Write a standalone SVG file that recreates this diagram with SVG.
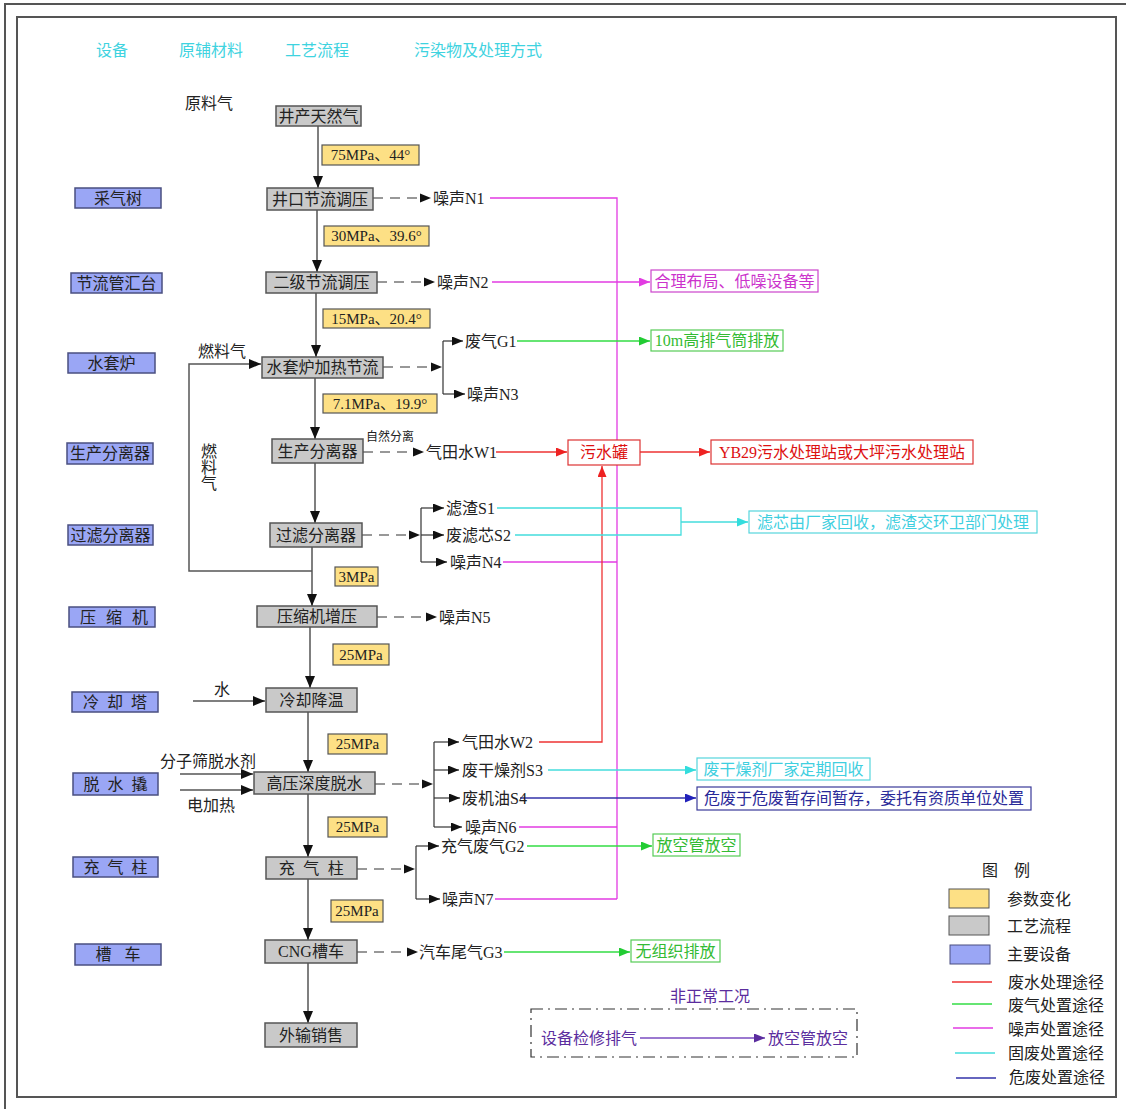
<svg xmlns="http://www.w3.org/2000/svg" width="1126" height="1109" viewBox="0 0 1126 1109">
<defs>
<style>
text{font-family:"Liberation Serif","Noto Sans CJK SC",serif;font-size:16px;fill:#222;dominant-baseline:central}
.c{text-anchor:middle}
.hd{fill:#3fd3df}
.proc{fill:#c9c9c9;stroke:#555;stroke-width:1.5}
.equip{fill:#9aa6f5;stroke:#4a4f80;stroke-width:1.5}
.param{fill:#fde085;stroke:#555;stroke-width:1.2}
.pt{font-size:15px}
.pol{font-size:16px}
.flow{fill:none;stroke:#555;stroke-width:1.5}
.dash{fill:none;stroke:#777;stroke-width:1.3;stroke-dasharray:10 7}
.br{fill:none;stroke:#333;stroke-width:1.2}
.mg{fill:none;stroke:#e23be2;stroke-width:1.3}
.gr{fill:none;stroke:#33dd44;stroke-width:1.3}
.rd{fill:none;stroke:#ee3333;stroke-width:1.3}
.cy{fill:none;stroke:#44dddd;stroke-width:1.3}
.bl{fill:none;stroke:#3333aa;stroke-width:1.3}
.pu{fill:none;stroke:#7a4cc0;stroke-width:1.3}
.tmg{fill:#cc33cc}.bmg{fill:#fff;stroke:#cc44cc;stroke-width:1.2}
.tgr{fill:#33bb33}.bgr{fill:#fff;stroke:#55cc55;stroke-width:1.2}
.trd{fill:#dd1111}.brd{fill:#fff;stroke:#dd3333;stroke-width:1.2}
.tcy{fill:#3fcfdf}.bcy{fill:#fff;stroke:#55d5dd;stroke-width:1.2}
.tbl{fill:#2a2a99}.bbl{fill:#fff;stroke:#3a3a99;stroke-width:1.2}
.tpu{fill:#5b2d9e}
</style>
<marker id="ak" markerUnits="userSpaceOnUse" markerWidth="12" markerHeight="10" refX="12" refY="5" orient="auto"><path d="M0,0L12,5L0,10z" fill="#111"/></marker>
<marker id="as" markerUnits="userSpaceOnUse" markerWidth="11" markerHeight="9" refX="11" refY="4.5" orient="auto"><path d="M0,0L11,4.5L0,9z" fill="#111"/></marker>
<marker id="am" markerUnits="userSpaceOnUse" markerWidth="11" markerHeight="9" refX="11" refY="4.5" orient="auto"><path d="M0,0L11,4.5L0,9z" fill="#e23be2"/></marker>
<marker id="ag" markerUnits="userSpaceOnUse" markerWidth="11" markerHeight="9" refX="11" refY="4.5" orient="auto"><path d="M0,0L11,4.5L0,9z" fill="#22cc33"/></marker>
<marker id="ar" markerUnits="userSpaceOnUse" markerWidth="11" markerHeight="9" refX="11" refY="4.5" orient="auto"><path d="M0,0L11,4.5L0,9z" fill="#ee2222"/></marker>
<marker id="ac" markerUnits="userSpaceOnUse" markerWidth="11" markerHeight="9" refX="11" refY="4.5" orient="auto"><path d="M0,0L11,4.5L0,9z" fill="#33dddd"/></marker>
<marker id="ab" markerUnits="userSpaceOnUse" markerWidth="11" markerHeight="9" refX="11" refY="4.5" orient="auto"><path d="M0,0L11,4.5L0,9z" fill="#2222bb"/></marker>
<marker id="ap" markerUnits="userSpaceOnUse" markerWidth="11" markerHeight="9" refX="11" refY="4.5" orient="auto"><path d="M0,0L11,4.5L0,9z" fill="#5b2d9e"/></marker>
</defs>
<rect width="1126" height="1109" fill="#fff"/>
<g id="frame" fill="none" stroke="#555" stroke-width="2">
<path d="M5,1109V4H1126"/>
<rect x="17" y="17" width="1099" height="1080"/>
</g>
<g id="headers">
<text class="c hd" x="112" y="50">设备</text>
<text class="c hd" x="211" y="50">原辅材料</text>
<text class="c hd" x="317" y="50">工艺流程</text>
<text class="c hd" x="478" y="50">污染物及处理方式</text>
<text x="185" y="103">原料气</text>
</g>
<g id="equipment">
<g id="e1"><rect class="equip" x="75" y="188" width="86" height="20"/><text class="c" x="118" y="198">采气树</text></g>
<g id="e2"><rect class="equip" x="71" y="273" width="91" height="20"/><text class="c" x="116.5" y="283">节流管汇台</text></g>
<g id="e3"><rect class="equip" x="68" y="353" width="87" height="20"/><text class="c" x="111.5" y="363">水套炉</text></g>
<g id="e4"><rect class="equip" x="67" y="443" width="86" height="21"/><text class="c" x="110" y="453.5">生产分离器</text></g>
<g id="e5"><rect class="equip" x="68" y="525" width="85" height="20"/><text class="c" x="110.5" y="535">过滤分离器</text></g>
<g id="e6"><rect class="equip" x="69" y="607" width="86" height="20"/><text class="c" x="119" y="617" letter-spacing="10">压缩机</text></g>
<g id="e7"><rect class="equip" x="72" y="692" width="86" height="20"/><text class="c" x="119" y="702" letter-spacing="8">冷却塔</text></g>
<g id="e8"><rect class="equip" x="73" y="773" width="85" height="22"/><text class="c" x="119.5" y="784" letter-spacing="8">脱水撬</text></g>
<g id="e9"><rect class="equip" x="73" y="857" width="85" height="20"/><text class="c" x="119.5" y="867" letter-spacing="8">充气柱</text></g>
<g id="e10"><rect class="equip" x="75" y="944" width="86" height="21"/><text class="c" x="124.5" y="954.5" letter-spacing="13">槽车</text></g>
</g>
<g id="connectors">
<g id="flow" class="flow" marker-end="url(#ak)">
<path d="M318,126V188"/><path d="M317,210V272"/><path d="M316,293V357"/><path d="M315,378V439"/>
<path d="M315,463V523"/><path d="M312,547V606"/><path d="M310,627V688"/><path d="M308,712V772"/>
<path d="M308,794V857"/><path d="M308,879V940"/><path d="M308,963V1023"/>
<path d="M312,571H189V364H261"/>
<path d="M193,701H265"/>
<path d="M180,774H253"/>
<path d="M180,790H253"/>
</g>
<g id="dashes" class="dash">
<path d="M373,198H425"/><path d="M377,282H430"/><path d="M383,367H435"/><path d="M363,452H418"/>
<path d="M362,535H414"/><path d="M377,617H431"/><path d="M375,784H427"/><path d="M357,869H409"/><path d="M357,952H412"/>
</g>
<g id="dash-heads" fill="#111">
<path d="M420,193.5L431,198L420,202.5z"/><path d="M424,277.5L435,282L424,286.5z"/><path d="M431,362.5L442,367L431,371.5z"/>
<path d="M413,447.5L424,452L413,456.5z"/><path d="M409,530.5L420,535L409,539.5z"/><path d="M426,612.5L437,617L426,621.5z"/>
<path d="M422,779.5L433,784L422,788.5z"/><path d="M404,864.5L415,869L404,873.5z"/><path d="M407,947.5L418,952L407,956.5z"/>
</g>
<g id="branches" class="br">
<path d="M443,341V394"/><path d="M421,508V562"/><path d="M434,742V827"/><path d="M416,846V899"/>
</g>
<g class="br" marker-end="url(#as)">
<path d="M443,341H463"/><path d="M443,394H465"/>
<path d="M421,508H444"/><path d="M421,535H444"/><path d="M421,562H447"/>
<path d="M434,742H459"/><path d="M434,770H459"/><path d="M434,798H460"/><path d="M434,827H462"/>
<path d="M416,846H439"/><path d="M416,899H440"/>
</g>
<g id="noise-lines">
<path class="mg" d="M490,198H617V899"/>
<path class="mg" d="M503,562H617"/><path class="mg" d="M519,827H617"/><path class="mg" d="M495,899H617"/>
<path class="mg" d="M492,282H650" marker-end="url(#am)"/>
</g>
<g id="gas-lines">
<path class="gr" d="M517,341H650" marker-end="url(#ag)"/>
<path class="gr" d="M527,846H652" marker-end="url(#ag)"/>
<path class="gr" d="M504,952H630" marker-end="url(#ag)"/>
</g>
<g id="water-lines">
<path class="rd" d="M496,452H567" marker-end="url(#ar)"/>
<path class="rd" d="M640,452H710" marker-end="url(#ar)"/>
<path class="rd" d="M539,742H602V466" marker-end="url(#ar)"/>
</g>
<g id="solid-lines">
<path class="cy" d="M497,508H681V535H515"/>
<path class="cy" d="M681,522H748" marker-end="url(#ac)"/>
<path class="cy" d="M548,770H696" marker-end="url(#ac)"/>
<path class="bl" d="M520,798H696" marker-end="url(#ab)"/>
</g>
<path class="pu" d="M640,1038H765" marker-end="url(#ap)"/>
</g>
<g id="process">
<g id="p1"><rect class="proc" x="276" y="106" width="85" height="20"/><text class="c" x="318.5" y="116">井产天然气</text></g>
<g id="p2"><rect class="proc" x="267" y="188" width="106" height="22"/><text class="c" x="320" y="199">井口节流调压</text></g>
<g id="p3"><rect class="proc" x="266" y="272" width="111" height="21"/><text class="c" x="321.5" y="282.5">二级节流调压</text></g>
<g id="p4"><rect class="proc" x="262" y="357" width="121" height="21"/><text class="c" x="322.5" y="367.5">水套炉加热节流</text></g>
<g id="p5"><rect class="proc" x="272" y="439" width="91" height="24"/><text class="c" x="317.5" y="451">生产分离器</text></g>
<g id="p6"><rect class="proc" x="270" y="523" width="92" height="24"/><text class="c" x="316" y="535">过滤分离器</text></g>
<g id="p7"><rect class="proc" x="257" y="606" width="120" height="21"/><text class="c" x="317" y="616.5">压缩机增压</text></g>
<g id="p8"><rect class="proc" x="266" y="688" width="91" height="24"/><text class="c" x="311.5" y="700">冷却降温</text></g>
<g id="p9"><rect class="proc" x="254" y="772" width="121" height="22"/><text class="c" x="314.5" y="783">高压深度脱水</text></g>
<g id="p10"><rect class="proc" x="266" y="857" width="91" height="22"/><text class="c" x="315.5" y="868" letter-spacing="8.5">充气柱</text></g>
<g id="p11"><rect class="proc" x="265" y="940" width="92" height="23"/><text class="c" x="311" y="951.5">CNG槽车</text></g>
<g id="p12"><rect class="proc" x="265" y="1023" width="92" height="24"/><text class="c" x="311" y="1035">外输销售</text></g>
</g>
<g id="params">
<g><rect class="param" x="322" y="145" width="97" height="20"/><text class="c pt" x="370.5" y="155">75MPa、44°</text></g>
<g><rect class="param" x="324" y="226" width="105" height="20"/><text class="c pt" x="376.5" y="236">30MPa、39.6°</text></g>
<g><rect class="param" x="323" y="309" width="107" height="19"/><text class="c pt" x="376.5" y="318.5">15MPa、20.4°</text></g>
<g><rect class="param" x="323" y="394" width="114" height="19"/><text class="c pt" x="380" y="403.5">7.1MPa、19.9°</text></g>
<g><rect class="param" x="335" y="567" width="43" height="19"/><text class="c pt" x="356.5" y="576.5">3MPa</text></g>
<g><rect class="param" x="333" y="644" width="56" height="21"/><text class="c pt" x="361" y="654.5">25MPa</text></g>
<g><rect class="param" x="328" y="734" width="59" height="20"/><text class="c pt" x="357.5" y="744">25MPa</text></g>
<g><rect class="param" x="328" y="817" width="59" height="20"/><text class="c pt" x="357.5" y="827">25MPa</text></g>
<g><rect class="param" x="331" y="900" width="52" height="22"/><text class="c pt" x="357" y="911">25MPa</text></g>
</g>
<g id="inputs">
<text x="198" y="351">燃料气</text>
<text class="c" x="209" y="451">燃</text><text class="c" x="209" y="467">料</text><text class="c" x="209" y="483">气</text>
<text class="c" x="222" y="689">水</text>
<text x="160" y="761">分子筛脱水剂</text>
<text x="187" y="805">电加热</text>
<text x="366" y="437" style="font-size:12px">自然分离</text>
</g>
<g id="pollutants">
<text class="pol" x="433" y="198">噪声N1</text>
<text class="pol" x="437" y="282">噪声N2</text>
<text class="pol" x="465" y="341">废气G1</text>
<text class="pol" x="467" y="394">噪声N3</text>
<text class="pol" x="426" y="452">气田水W1</text>
<text class="pol" x="446" y="508">滤渣S1</text>
<text class="pol" x="446" y="535">废滤芯S2</text>
<text class="pol" x="450" y="562">噪声N4</text>
<text class="pol" x="439" y="617">噪声N5</text>
<text class="pol" x="462" y="742">气田水W2</text>
<text class="pol" x="462" y="770">废干燥剂S3</text>
<text class="pol" x="462" y="798">废机油S4</text>
<text class="pol" x="465" y="827">噪声N6</text>
<text class="pol" x="441" y="846">充气废气G2</text>
<text class="pol" x="442" y="899">噪声N7</text>
<text class="pol" x="419" y="952">汽车尾气G3</text>
</g>
<g id="treatments">
<g id="t-noise"><rect class="bmg" x="651" y="270" width="167" height="22"/><text class="c tmg" x="734.5" y="281">合理布局、低噪设备等</text></g>
<g id="t-g1"><rect class="bgr" x="651" y="330" width="132" height="21"/><text class="c tgr" x="717" y="340.5">10m高排气筒排放</text></g>
<g id="t-tank"><rect class="brd" x="568" y="440" width="72" height="25"/><text class="c trd" x="604" y="452.5">污水罐</text></g>
<g id="t-yb"><rect class="brd" x="711" y="440" width="262" height="24"/><text class="c trd" x="842" y="452">YB29污水处理站或大坪污水处理站</text></g>
<g id="t-filter"><rect class="bcy" x="749" y="511" width="288" height="22"/><text class="c tcy" x="893" y="522">滤芯由厂家回收，滤渣交环卫部门处理</text></g>
<g id="t-s3"><rect class="bcy" x="697" y="758" width="173" height="22"/><text class="c tcy" x="783.5" y="769">废干燥剂厂家定期回收</text></g>
<g id="t-s4"><rect class="bbl" x="697" y="787" width="334" height="23"/><text class="c tbl" x="864" y="798.5">危废于危废暂存间暂存，委托有资质单位处置</text></g>
<g id="t-g2"><rect class="bgr" x="653" y="834" width="87" height="22"/><text class="c tgr" x="696.5" y="845">放空管放空</text></g>
<g id="t-g3"><rect class="bgr" x="631" y="940" width="89" height="22"/><text class="c tgr" x="675.5" y="951">无组织排放</text></g>
</g>
<g id="abnormal">
<text class="c tpu" x="710" y="996">非正常工况</text>
<rect x="531" y="1009" width="326" height="48" fill="none" stroke="#333" stroke-width="1.2" stroke-dasharray="12 5 2 5"/>
<text class="tpu" x="541" y="1038">设备检修排气</text>
<text class="tpu" x="768" y="1038">放空管放空</text>
</g>
<g id="legend">
<text class="c" x="1014" y="870" letter-spacing="16">图例</text>
<rect x="949" y="889" width="40" height="19" fill="#fde085" stroke="#555"/>
<text x="1007" y="899">参数变化</text>
<rect x="949" y="916" width="40" height="19" fill="#c9c9c9" stroke="#555"/>
<text x="1007" y="926">工艺流程</text>
<rect x="950" y="945" width="40" height="19" fill="#9aa6f5" stroke="#4a4f80"/>
<text x="1007" y="954">主要设备</text>
<path d="M952,982H992" stroke="#ee3333" stroke-width="1.5"/>
<text x="1008" y="982">废水处理途径</text>
<path d="M952,1004H992" stroke="#33dd44" stroke-width="1.5"/>
<text x="1008" y="1005">废气处置途径</text>
<path d="M953,1028H993" stroke="#e23be2" stroke-width="1.5"/>
<text x="1008" y="1029">噪声处置途径</text>
<path d="M955,1053H995" stroke="#44dddd" stroke-width="1.5"/>
<text x="1008" y="1053">固废处置途径</text>
<path d="M956,1078H996" stroke="#3333aa" stroke-width="1.5"/>
<text x="1009" y="1077">危废处置途径</text>
</g>
</svg>
